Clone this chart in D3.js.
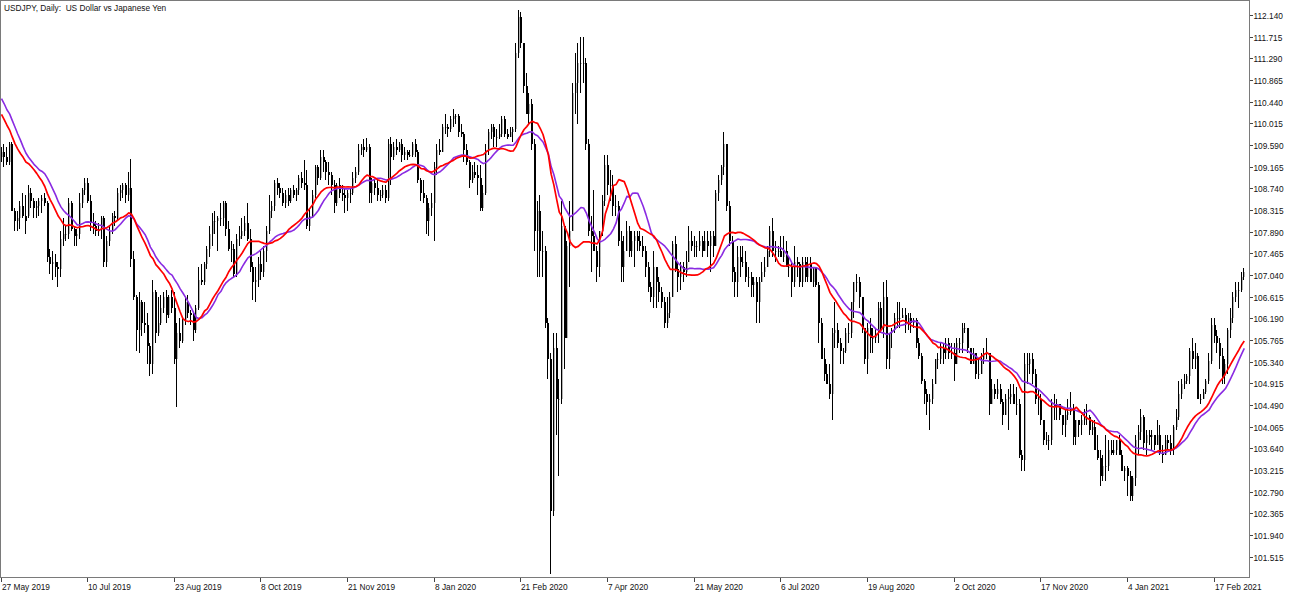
<!DOCTYPE html>
<html><head><meta charset="utf-8">
<script src="https://cdn.jsdelivr.net/npm/d3@7"></script>
<style>
html,body{margin:0;padding:0;background:#fff;overflow:hidden;}
svg{display:block;}
text{font-family:"Liberation Sans",Arial,sans-serif;}
</style></head><body>
<svg id="chart" width="1297" height="594"></svg>
<script>
const title = "USDJPY, Daily:  US Dollar vs Japanese Yen";
const dateTickIndex = [0,32,64,96,128,160,192,224,256,288,320,352,384,416,448];
const dateTickLabels = ["27 May 2019","10 Jul 2019","23 Aug 2019","8 Oct 2019","21 Nov 2019","8 Jan 2020","21 Feb 2020","7 Apr 2020","21 May 2020","6 Jul 2020","19 Aug 2020","2 Oct 2020","17 Nov 2020","4 Jan 2021","17 Feb 2021"];
const priceTicks = [112.140,111.715,111.290,110.865,110.440,110.015,109.590,109.165,108.740,108.315,107.890,107.465,107.040,106.615,106.190,105.765,105.340,104.915,104.490,104.065,103.640,103.215,102.790,102.365,101.940,101.515];
const maFastPeriod = 20;   // red
const maSlowPeriod = 25;   // purple
// closes before the first visible bar (only feed the moving averages)
const priorCloses = [111.85,112.2,111.6,111.6,111.4,111.4,111.45,111.5,111.1,110.7,110.25,110.1,109.7,109.95,109.3,109.6,109.6,109.85,110.1,110.05,110.5,110.3,109.6,109.3];

const opens = [
109.35,109.45,109.35,109.25,109.6,108.3,108.1,108.15,108.4,108.2,
108.2,108.65,108.5,108.35,108.4,108.5,108.55,108.45,107.4,107.25,
107.3,107.2,107.15,107.75,107.85,107.85,108.45,107.95,107.8,107.85,
108.45,108.7,108.85,108.5,108.05,108.0,107.9,107.95,108.15,107.3,
107.7,107.9,108.2,108.15,108.65,108.7,108.8,108.6,108.75,107.35,
106.6,105.95,106.5,106.1,106.05,105.65,105.3,106.7,105.9,106.1,
106.4,106.6,106.25,106.6,106.4,105.4,105.9,105.75,106.15,106.5,
106.3,106.25,105.95,106.4,106.95,106.9,107.25,107.55,107.85,108.1,
108.1,108.15,108.15,108.45,107.95,107.55,107.55,107.05,107.75,107.8,
107.9,108.05,107.75,107.2,106.9,106.95,107.25,107.1,107.5,107.9,
108.3,108.4,108.85,108.75,108.65,108.45,108.6,108.5,108.7,108.6,
108.7,108.95,108.85,108.8,108.0,108.2,108.6,109.15,108.95,109.35,
109.25,109.05,109.0,108.8,108.45,108.8,108.65,108.6,108.55,108.65,
108.65,108.95,109.05,109.5,109.55,109.5,109.55,108.65,108.85,108.75,
108.6,108.6,108.7,108.55,109.6,109.35,109.55,109.5,109.6,109.4,
109.45,109.4,109.4,109.6,109.45,108.9,108.65,108.55,108.1,108.35,
108.45,109.15,109.5,109.45,109.95,109.95,109.9,110.1,110.15,110.15,
109.85,109.8,109.5,109.25,108.9,109.05,109.0,108.95,108.35,108.65,
109.5,109.85,109.95,109.75,109.75,109.8,110.1,109.8,109.75,109.85,
109.9,111.4,112.1,111.6,110.75,110.2,110.4,109.6,107.9,108.3,
107.5,107.5,106.1,105.4,102.4,105.6,104.6,104.6,108.0,105.8,
107.6,107.9,110.6,110.8,111.2,111.2,111.2,109.6,107.9,107.8,
107.5,107.2,107.9,108.5,109.2,108.8,108.8,108.4,108.4,107.7,
107.2,107.5,107.9,107.5,107.7,107.8,107.7,107.6,107.5,107.2,
106.8,106.6,107.2,106.9,106.7,106.5,106.1,106.3,106.6,107.65,
107.15,107.0,107.2,107.1,107.3,107.7,107.6,107.6,107.6,107.7,
107.5,107.7,107.6,107.8,107.6,108.65,108.9,109.15,109.6,108.4,
107.7,107.1,106.9,107.4,107.3,107.3,107.0,107.0,106.85,106.9,
106.5,106.9,107.1,107.2,107.5,107.9,107.5,107.5,107.5,107.4,
107.5,107.2,107.2,106.9,107.3,107.25,106.9,107.3,107.0,107.25,
106.9,107.2,106.85,106.1,105.4,105.1,104.9,104.7,105.9,105.95,
105.7,105.55,105.55,105.9,105.9,106.5,106.9,106.9,106.6,106.0,
105.4,106.0,105.8,105.8,105.9,106.4,106.0,106.6,105.4,105.9,
105.95,106.2,106.2,106.2,106.25,106.1,106.2,106.1,106.15,105.7,
105.45,104.95,104.7,104.55,104.6,104.9,105.4,105.4,105.6,105.5,
105.7,105.5,105.5,105.3,105.7,105.7,106.0,106.0,105.6,105.3,
105.5,105.1,105.1,105.4,105.5,105.5,104.5,104.8,104.7,104.8,
104.55,104.3,104.6,104.65,104.7,104.5,104.5,103.5,103.4,105.3,
105.3,105.4,105.1,104.6,104.6,104.2,103.8,103.8,103.8,104.5,
104.45,104.5,104.3,104.1,104.3,104.35,104.4,103.85,104.2,104.1,
104.2,104.25,104.25,104.0,104.05,103.6,103.45,103.1,103.3,103.3,
103.6,103.55,103.6,103.8,103.5,103.2,103.25,103.1,102.7,103.05,
103.8,103.95,104.25,103.75,103.9,103.85,103.9,103.7,103.9,103.55,
103.5,103.8,103.75,103.6,104.05,104.25,104.7,104.9,104.95,105.05,
105.55,105.4,105.45,104.6,104.6,104.75,104.95,105.35,106.05,105.85,
105.7,105.45,105.05,105.3,105.95,106.2,106.6,106.75,106.75,107.0];

const highs = [
109.55,109.6,109.55,109.65,109.65,108.35,108.3,108.5,108.65,108.6,
108.8,108.75,108.55,108.5,108.55,108.6,108.65,108.5,107.55,107.5,
107.45,107.3,107.9,108.15,108.0,108.55,108.5,108.0,107.95,108.65,
108.75,108.95,108.95,108.6,108.25,108.1,108.05,108.2,108.2,107.8,
108.0,108.25,108.3,108.75,108.8,108.85,108.85,109.05,109.32,107.5,
106.65,106.7,106.55,106.5,106.3,105.7,106.95,106.75,106.6,106.65,
106.7,106.75,106.65,106.75,106.7,106.1,106.2,106.2,106.6,106.65,
106.35,106.3,106.45,107.2,107.25,107.3,107.6,108.0,108.25,108.3,
108.2,108.45,108.5,108.5,108.1,107.7,107.65,107.85,108.0,108.15,
108.2,108.45,107.95,107.3,107.2,107.4,107.5,107.6,108.0,108.6,
108.5,108.9,108.95,108.85,108.75,108.7,108.75,108.75,108.8,108.75,
109.0,109.05,109.3,109.1,108.35,108.7,109.2,109.2,109.5,109.5,
109.3,109.25,109.05,108.9,108.85,108.95,108.8,108.75,108.7,108.75,
109.05,109.15,109.6,109.6,109.7,109.73,109.6,108.95,108.9,108.95,
108.7,108.8,108.8,109.7,109.75,109.65,109.7,109.65,109.7,109.55,
109.5,109.5,109.65,109.7,109.5,108.95,108.9,108.6,108.45,108.65,
109.25,109.6,109.7,110.0,110.2,110.0,110.15,110.3,110.2,110.2,
110.0,109.85,109.6,109.3,109.2,109.25,109.2,109.2,108.8,109.6,
109.9,110.0,110.0,109.9,110.0,110.15,110.15,109.9,109.95,109.95,
111.6,112.23,112.2,111.6,111.0,110.6,110.5,109.7,108.5,108.6,
107.9,107.6,106.2,105.5,105.9,105.9,105.0,108.5,108.0,107.7,
108.5,110.8,111.4,111.6,111.7,111.7,111.3,109.7,108.2,108.7,
107.6,107.9,108.6,109.4,109.4,109.1,109.0,108.6,108.5,107.9,
107.8,108.1,108.0,107.9,107.9,107.9,107.9,107.8,107.6,107.3,
106.9,107.5,107.2,107.0,106.8,106.6,106.6,106.7,107.7,107.8,
107.3,107.3,107.3,107.5,108.0,107.9,107.8,107.7,107.9,107.8,
107.9,107.9,107.9,107.9,108.7,109.0,109.2,109.85,109.6,108.5,
107.8,107.2,107.6,107.6,107.6,107.5,107.2,107.1,107.0,107.0,
107.0,107.3,107.4,107.6,108.0,108.16,107.7,107.6,107.8,107.8,
107.7,107.4,107.3,107.6,107.4,107.3,107.4,107.4,107.4,107.4,
107.2,107.2,106.9,106.2,105.6,105.3,105.3,106.0,106.5,106.1,
105.8,105.6,106.0,106.1,106.5,106.9,107.05,107.0,106.6,106.0,
106.1,106.2,106.0,106.0,106.5,106.5,106.9,106.95,105.9,106.0,
106.3,106.5,106.5,106.4,106.4,106.3,106.3,106.2,106.2,105.8,
105.5,105.0,104.8,104.7,105.0,105.4,105.5,105.7,105.7,105.8,
105.8,105.7,105.7,105.8,105.8,106.1,106.1,106.0,105.6,105.6,
105.5,105.4,105.5,105.6,105.8,105.5,105.0,104.9,105.0,104.9,
104.6,104.7,104.8,104.9,104.9,104.85,104.6,103.6,105.5,105.5,
105.5,105.5,105.2,104.8,104.7,104.2,103.95,103.9,104.6,104.7,
104.6,104.5,104.3,104.4,104.6,104.75,104.5,104.2,104.2,104.3,
104.4,104.5,104.3,104.2,104.2,103.9,103.6,103.5,103.9,103.8,
103.8,103.8,103.8,103.9,103.6,103.3,103.3,103.2,103.1,103.9,
104.1,104.4,104.3,104.0,104.0,104.0,103.9,104.2,104.1,103.7,
103.9,103.9,103.9,104.1,104.4,104.95,105.0,105.1,105.1,105.6,
105.8,105.7,105.5,104.7,104.8,105.0,105.5,106.2,106.2,105.95,
105.8,105.6,105.4,106.0,106.4,106.7,106.9,106.9,107.1,107.18];

const lows = [
109.25,109.15,109.2,109.2,108.3,107.9,107.9,107.95,108.15,107.85,
108.15,108.35,108.15,108.15,108.2,108.25,108.4,107.3,107.05,106.95,
107.0,106.8,107.0,107.6,107.7,107.75,107.9,107.6,107.6,107.75,
108.35,108.6,108.45,107.9,107.85,107.8,107.8,107.75,107.2,107.2,
107.6,107.85,108.0,108.1,108.5,108.55,108.45,108.5,107.2,106.55,
105.55,105.5,105.85,105.9,105.3,105.05,105.1,105.7,105.85,106.05,
106.3,106.1,106.2,106.3,105.3,104.45,105.6,105.7,106.05,106.2,
106.05,105.75,105.9,106.35,106.85,106.85,107.15,107.4,107.6,107.85,
107.5,108.0,108.0,107.8,107.5,107.3,107.0,107.0,107.6,107.75,
107.8,107.7,107.1,106.55,106.5,106.8,106.95,107.0,107.3,107.85,
108.15,108.3,108.6,108.55,108.4,108.35,108.4,108.45,108.55,108.5,
108.6,108.75,108.7,107.95,107.9,108.15,108.55,108.8,108.9,109.05,
108.9,108.8,108.6,108.25,108.4,108.55,108.5,108.25,108.3,108.45,
108.6,108.85,109.0,109.4,109.35,109.45,108.45,108.45,108.6,108.5,
108.5,108.55,108.45,108.5,108.8,109.3,109.4,109.45,109.25,109.3,
109.3,109.35,109.35,109.35,108.85,108.5,108.45,107.85,107.8,108.2,
107.7,109.0,109.4,109.45,109.8,109.75,109.85,109.95,110.0,109.75,
109.75,109.25,109.2,108.75,108.85,108.95,108.6,108.3,108.3,108.6,
109.4,109.7,109.55,109.55,109.7,109.75,109.75,109.7,109.75,109.65,
109.85,111.3,111.5,110.6,110.2,110.0,109.5,107.5,107.0,107.0,
107.0,106.0,105.0,101.18,102.3,103.9,103.1,104.5,105.2,105.8,
106.8,107.9,110.2,110.0,110.6,110.8,109.5,107.8,107.1,107.5,
106.9,107.0,107.8,108.4,108.6,108.5,108.2,108.2,107.6,106.9,
106.9,107.5,107.4,107.4,107.2,107.5,107.5,107.4,107.0,106.7,
106.5,106.4,106.4,106.5,106.4,106.0,106.0,106.2,106.6,107.1,
106.7,106.75,106.9,107.0,107.3,107.5,107.4,107.4,107.5,107.4,
107.5,107.4,107.1,107.4,107.6,108.5,108.8,109.0,108.3,107.6,
106.9,106.6,106.6,107.0,107.2,106.9,106.8,106.6,106.6,106.1,
106.1,106.9,107.0,107.2,107.4,107.4,107.3,107.4,107.4,107.3,
107.2,107.0,106.6,106.8,107.0,106.8,106.8,106.9,106.9,106.9,
106.8,106.8,105.7,105.4,104.95,104.9,104.6,104.2,105.6,105.6,
105.3,105.3,105.5,105.7,105.8,106.2,106.7,106.4,105.9,105.3,
105.1,105.5,105.5,105.7,105.7,105.9,105.8,105.2,105.2,105.6,
105.9,106.0,106.0,106.2,105.9,105.95,105.9,106.0,105.6,105.4,
104.9,104.5,104.3,104.0,104.5,104.9,105.2,105.3,105.3,105.4,
105.4,105.4,104.95,105.3,105.5,105.5,105.9,105.5,105.3,105.3,
105.0,105.0,105.1,105.3,105.4,104.3,104.5,104.6,104.6,104.5,
104.1,104.3,104.0,104.5,104.5,104.3,103.45,103.2,103.2,104.9,
105.1,104.9,104.5,104.3,104.1,103.7,103.7,103.6,103.7,104.2,
104.2,104.2,103.9,103.85,104.2,104.3,103.7,103.7,103.85,103.9,
104.1,104.1,103.9,103.9,103.6,103.4,102.9,103.0,103.0,103.2,
103.5,103.5,103.5,103.5,103.2,103.0,102.7,102.6,102.6,102.9,
103.5,103.8,103.6,103.5,103.7,103.6,103.6,103.7,103.5,103.35,
103.5,103.6,103.5,103.5,104.0,104.2,104.6,104.8,104.9,104.9,
105.2,105.2,104.6,104.5,104.6,104.7,104.9,105.3,105.7,105.5,
105.2,104.9,104.9,105.1,105.8,106.1,106.5,106.4,106.7,106.95];

const closes = [
109.45,109.35,109.25,109.6,108.3,108.1,108.15,108.4,108.2,108.1,
108.65,108.5,108.35,108.4,108.5,108.55,108.45,107.4,107.25,107.3,
107.2,107.15,107.75,107.85,107.85,108.45,107.95,107.8,107.85,108.45,
108.7,108.85,108.5,108.05,108.0,107.9,107.95,108.15,107.3,107.7,
107.9,108.2,108.15,108.65,108.7,108.8,108.6,108.75,107.35,106.6,
105.95,106.5,106.1,106.05,105.65,105.3,106.7,105.9,106.1,106.4,
106.6,106.25,106.6,106.4,105.4,105.9,105.75,106.15,106.5,106.3,
106.25,105.95,106.4,106.95,106.9,107.25,107.55,107.85,108.1,108.1,
108.15,108.15,108.45,107.95,107.55,107.55,107.05,107.75,107.8,107.9,
108.05,107.75,107.2,106.9,106.95,107.25,107.1,107.5,107.9,108.3,
108.4,108.85,108.75,108.65,108.45,108.6,108.5,108.7,108.6,108.7,
108.95,108.85,108.8,108.0,108.2,108.6,109.15,108.95,109.35,109.25,
109.05,109.0,108.8,108.45,108.8,108.65,108.6,108.55,108.65,108.65,
108.95,109.05,109.5,109.55,109.5,109.55,108.65,108.85,108.75,108.6,
108.6,108.7,108.55,109.6,109.35,109.55,109.5,109.6,109.4,109.45,
109.4,109.4,109.6,109.45,108.9,108.65,108.55,108.1,108.35,108.45,
109.15,109.5,109.45,109.95,109.95,109.9,110.1,110.15,110.15,109.85,
109.8,109.5,109.25,108.9,109.05,109.0,108.95,108.35,108.65,109.5,
109.85,109.95,109.75,109.75,109.8,110.1,109.8,109.75,109.85,109.9,
111.4,112.1,111.6,110.75,110.2,110.4,109.6,107.9,108.3,107.5,
107.5,106.1,105.4,102.4,105.6,104.6,104.6,108.0,105.8,107.6,
107.9,110.6,110.8,111.2,111.2,111.2,109.6,107.9,107.8,107.5,
107.2,107.9,108.5,109.2,108.8,108.8,108.4,108.4,107.7,107.2,
107.5,107.9,107.5,107.7,107.8,107.7,107.6,107.5,107.2,106.8,
106.6,107.2,106.9,106.7,106.5,106.1,106.3,106.6,107.65,107.15,
107.0,107.2,107.1,107.3,107.7,107.6,107.6,107.6,107.7,107.5,
107.7,107.6,107.8,107.6,108.65,108.9,109.15,109.6,108.4,107.7,
107.1,106.9,107.4,107.3,107.3,107.0,107.0,106.85,106.9,106.5,
106.9,107.1,107.2,107.5,107.9,107.5,107.5,107.5,107.4,107.5,
107.2,107.2,106.9,107.3,107.25,106.9,107.3,107.0,107.25,106.9,
107.2,106.85,106.1,105.4,105.1,104.9,104.7,105.9,105.95,105.7,
105.55,105.55,105.9,105.9,106.5,106.9,106.9,106.6,106.0,105.4,
106.0,105.8,105.8,105.9,106.4,106.0,106.6,105.4,105.9,105.95,
106.2,106.2,106.2,106.25,106.1,106.2,106.1,106.15,105.7,105.45,
104.95,104.7,104.55,104.6,104.9,105.4,105.4,105.6,105.5,105.7,
105.5,105.5,105.3,105.7,105.7,106.0,106.0,105.6,105.3,105.5,
105.1,105.1,105.4,105.5,105.5,104.5,104.8,104.7,104.8,104.55,
104.3,104.6,104.65,104.7,104.5,104.5,103.5,103.4,105.3,105.3,
105.4,105.1,104.6,104.6,104.2,103.8,103.8,103.8,104.5,104.45,
104.5,104.3,104.1,104.3,104.35,104.4,103.85,104.2,104.1,104.2,
104.25,104.25,104.0,104.05,103.6,103.45,103.1,103.3,103.3,103.6,
103.55,103.6,103.8,103.5,103.2,103.25,103.1,102.7,103.05,103.8,
103.95,104.25,103.75,103.9,103.85,103.9,103.7,103.9,103.55,103.5,
103.8,103.75,103.6,104.05,104.25,104.7,104.9,104.95,105.05,105.55,
105.4,105.45,104.6,104.6,104.75,104.95,105.35,106.05,105.85,105.7,
105.45,105.05,105.3,105.95,106.2,106.6,106.75,106.75,107.0,107.1];

const W = 1297, H = 594;
const plotRight = 1249.5, plotBottom = 577.5;
const svg = d3.select("#chart");

const x = d3.scaleLinear().domain([0, 448]).range([1.5, 1214.5]);
const y = d3.scaleLinear().domain([101.515, 112.14]).range([556.5, 15]);

svg.append("defs").append("clipPath").attr("id","plot")
  .append("rect").attr("x",0.5).attr("y",0.5).attr("width",plotRight-0.5).attr("height",plotBottom-0.5);

const plot = svg.append("g").attr("clip-path","url(#plot)");

// candles
const idx = d3.range(closes.length);
const cg = plot.append("g").attr("shape-rendering","crispEdges");
idx.forEach(i => {
  const px = Math.round(x(i));
  const yh = y(highs[i]), yl = y(lows[i]);
  const yo = y(opens[i]), yc = y(closes[i]);
  const bull = closes[i] >= opens[i];
  const top = Math.min(yo, yc), bh = Math.max(1, Math.abs(yo - yc));
  cg.append("rect").attr("x", px - 1).attr("y", top).attr("width", 2).attr("height", bh)
    .attr("fill", bull ? "#b3b3b3" : "#000");
  cg.append("rect").attr("x", bull ? px - 1 : px - 1).attr("y", yh).attr("width", 1)
    .attr("height", Math.max(1, yl - yh)).attr("fill", "#000");
});

// moving averages computed from the closes
const allCloses = priorCloses.concat(closes);
function sma(period) {
  return closes.map((c, i) => {
    const end = i + priorCloses.length;
    return d3.mean(allCloses.slice(end - period + 1, end + 1));
  });
}
const maSlow = sma(maSlowPeriod), maFast = sma(maFastPeriod);
const line = d3.line().x((d, i) => x(i)).y(d => y(d));
plot.append("path").datum(maSlow).attr("d", line).attr("fill","none")
  .attr("stroke","#8a2be2").attr("stroke-width",1.6).attr("stroke-linejoin","round");
plot.append("path").datum(maFast).attr("d", line).attr("fill","none")
  .attr("stroke","#ff0000").attr("stroke-width",1.7).attr("stroke-linejoin","round");

// frame
const frameColor = "#7a7a7a";
svg.append("rect").attr("x",0.5).attr("y",0.5).attr("width",plotRight-0.5).attr("height",plotBottom-0.5)
  .attr("fill","none").attr("stroke",frameColor).attr("stroke-width",1).attr("shape-rendering","crispEdges");

// price axis
const pa = svg.append("g");
priceTicks.forEach(p => {
  const py = Math.round(y(p)) + 0.5;
  pa.append("line").attr("x1",plotRight).attr("x2",plotRight+3.5).attr("y1",py).attr("y2",py)
    .attr("stroke","#444").attr("shape-rendering","crispEdges");
  pa.append("text").attr("x",plotRight+4).attr("y",py+3).attr("font-size","8.3px").attr("fill","#111")
    .text(p.toFixed(3));
});

// date axis
const da = svg.append("g");
dateTickIndex.forEach((d, k) => {
  const px = Math.round(x(d)) - 0.5;
  da.append("line").attr("x1",px).attr("x2",px).attr("y1",plotBottom).attr("y2",plotBottom+4)
    .attr("stroke","#444").attr("shape-rendering","crispEdges");
  da.append("text").attr("x",px+0.5).attr("y",589.5).attr("font-size","8.3px").attr("fill","#111")
    .text(dateTickLabels[k]);
});

// title
svg.append("text").attr("x",4).attr("y",11).attr("font-size","8.3px").attr("fill","#111")
  .attr("xml:space","preserve").style("white-space","pre").text(title);
</script>
</body></html>
